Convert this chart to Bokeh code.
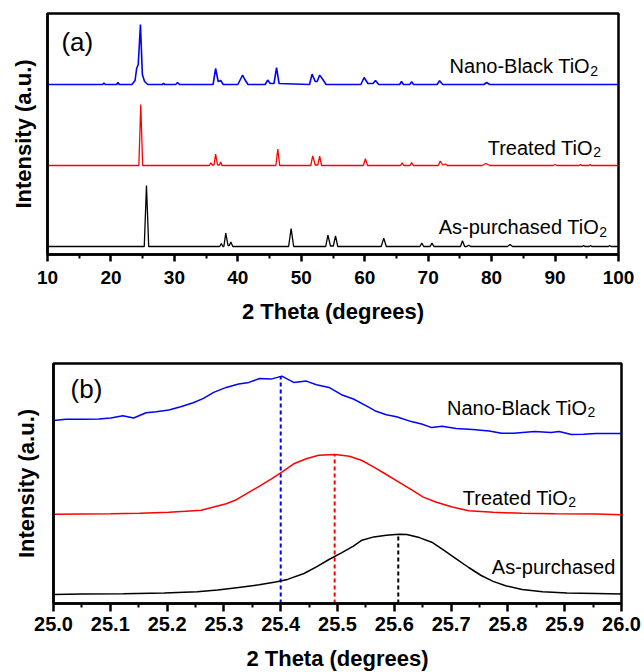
from bokeh.plotting import figure
from bokeh.models import Label, FixedTicker, Range1d, NumeralTickFormatter
from bokeh.embed import file_html
from bokeh.resources import INLINE

# ---------------- Panel (a): full XRD patterns (vertex points) ----------------
A_TICKS = [10, 20, 30, 40, 50, 60, 70, 80, 90, 100]
A_MINOR = [15, 25, 35, 45, 55, 65, 75, 85, 95]

BLACK_A = [(10.0, 8), (25.25, 8), (25.6, 69), (25.95, 8), (37.15, 8), (37.4, 11), (37.65, 8),
           (37.8, 8), (38.1, 21.4), (38.45, 9), (38.65, 9), (38.9, 12.4), (39.2, 8),
           (48.0, 8), (48.4, 25.8), (48.8, 8), (53.85, 8), (54.2, 19.4), (54.6, 8.5),
           (55.05, 8.5), (55.4, 18.7), (55.75, 8), (62.6, 8), (63.0, 16.4), (63.4, 8),
           (68.7, 8), (69.0, 11.4), (69.3, 8), (70.3, 8), (70.6, 11.4), (70.9, 8),
           (75.1, 8), (75.4, 13.7), (75.75, 8), (76.1, 8), (76.4, 9.3), (76.7, 8),
           (82.5, 8), (82.9, 10), (83.3, 8), (94.3, 8), (94.5, 9), (94.7, 8),
           (95.4, 8), (95.6, 9), (95.8, 8), (98.4, 8), (98.6, 9), (98.8, 8), (100.0, 8)]

RED_A = [(10.0, 89), (24.4, 89), (24.7, 150), (25.0, 89), (35.5, 89), (35.75, 91.7), (36.0, 89.5),
         (36.25, 89.5), (36.5, 100.4), (36.8, 89.5), (37.1, 89.5), (37.3, 92.4), (37.5, 89),
         (46.0, 89), (46.3, 105.4), (46.6, 89), (51.5, 89), (51.8, 98.7), (52.2, 89.5),
         (52.6, 89.5), (52.9, 98.4), (53.2, 89), (59.8, 89), (60.1, 95.7), (60.45, 89),
         (65.65, 89), (65.9, 91.7), (66.15, 89), (67.15, 89), (67.4, 92), (67.65, 89),
         (71.6, 89), (71.9, 93.4), (72.3, 89.5), (72.7, 90.5), (73.0, 89), (78.5, 89),
         (79.1, 91), (79.7, 89), (89.7, 89), (90.0, 90), (90.3, 89), (93.8, 89), (94.0, 90),
         (94.2, 89), (95.3, 89), (95.5, 90), (95.7, 89), (100.0, 89)]

BLUE_A = [(10.0, 170), (18.7, 170), (18.9, 171.5), (19.1, 170), (20.9, 170), (21.1, 172), (21.3, 170),
          (23.3, 170), (23.8, 174), (24.05, 186), (24.3, 190), (24.65, 230), (24.95, 180),
          (25.3, 173), (25.8, 170), (28.1, 170), (28.3, 171), (28.5, 170), (30.2, 170),
          (30.5, 172), (30.8, 170), (36.1, 170), (36.5, 186), (36.9, 173), (37.3, 174),
          (37.7, 170), (40.0, 170), (40.4, 175), (40.75, 179.4), (41.1, 175), (41.6, 170),
          (44.3, 170), (44.7, 174.4), (45.1, 171), (45.7, 171), (46.1, 186.8), (46.5, 171),
          (51.3, 170), (51.7, 180.4), (52.2, 173), (52.5, 173), (52.9, 179.4), (53.4, 175),
          (53.9, 170), (59.4, 170), (59.9, 177), (60.5, 171), (61.3, 171), (61.7, 174),
          (62.2, 170), (65.5, 170), (65.8, 173), (66.1, 170), (67.1, 170), (67.4, 172.7),
          (67.7, 170), (71.4, 170), (71.8, 173.7), (72.3, 170), (78.8, 170), (79.2, 172),
          (79.7, 170), (100.0, 170)]

# ---------------- Panel (b): zoom on the (101) peak ----------------
B_TICKS = [25.0, 25.1, 25.2, 25.3, 25.4, 25.5, 25.6, 25.7, 25.8, 25.9, 26.0]
B_MINOR = [25.05, 25.15, 25.25, 25.35, 25.45, 25.55, 25.65, 25.75, 25.85, 25.95]

BLUE_B_X = [25.000, 25.022, 25.051, 25.080, 25.101, 25.122, 25.141, 25.163, 25.181, 25.203,
            25.224, 25.246, 25.264, 25.282, 25.304, 25.326, 25.344, 25.363, 25.383, 25.402,
            25.423, 25.445, 25.463, 25.485, 25.507, 25.528, 25.550, 25.568, 25.586, 25.604,
            25.630, 25.648, 25.666, 25.684, 25.709, 25.738, 25.767, 25.789, 25.810, 25.847,
            25.876, 25.890, 25.912, 25.933, 25.955, 26.000]
BLUE_B_Y = [182.9, 184.2, 184.2, 184.5, 185.5, 187.8, 185.5, 190.8, 191.8, 193.5,
            196.8, 200.8, 205.1, 211.1, 216.1, 219.4, 221.1, 225.0, 224.4, 227.4,
            221.1, 222.4, 218.7, 216.1, 208.8, 204.5, 197.8, 192.2, 188.8, 186.8,
            181.9, 179.5, 175.9, 177.2, 174.9, 173.9, 172.6, 170.2, 170.2, 171.9,
            170.9, 171.9, 168.9, 169.2, 169.9, 169.9]

RED_B_X = [25.000, 25.051, 25.101, 25.152, 25.203, 25.232, 25.260, 25.282, 25.304, 25.322,
           25.340, 25.362, 25.383, 25.402, 25.423, 25.445, 25.467, 25.496, 25.521, 25.543,
           25.564, 25.586, 25.608, 25.630, 25.651, 25.673, 25.702, 25.731, 25.774, 25.825,
           25.883, 25.955, 26.000]
RED_B_Y = [89.2, 89.5, 89.8, 90.2, 91.2, 92.2, 93.2, 96.5, 99.8, 103.8,
           109.8, 117.1, 124.4, 131.4, 139.7, 144.7, 148.3, 149.0, 147.3, 143.0,
           136.4, 129.0, 121.4, 113.8, 106.4, 101.5, 96.5, 92.8, 91.2, 90.2,
           89.8, 89.5, 88.8]

BLACK_B_X = [25.000, 25.051, 25.123, 25.195, 25.253, 25.289, 25.326, 25.362, 25.391, 25.412,
             25.441, 25.463, 25.485, 25.507, 25.528, 25.543, 25.564, 25.586, 25.608, 25.622,
             25.644, 25.666, 25.687, 25.709, 25.731, 25.753, 25.774, 25.796, 25.825, 25.861,
             25.904, 25.955, 26.000]
BLACK_B_Y = [9.1, 9.4, 9.8, 10.4, 11.8, 13.4, 16.1, 18.7, 21.4, 24.1,
             30.0, 36.7, 44.0, 50.6, 57.3, 63.3, 66.6, 68.2, 69.2, 68.9,
             65.9, 61.3, 53.3, 44.7, 36.0, 28.0, 22.1, 17.8, 14.1, 11.8,
             10.4, 10.1, 9.4]

PEAK_X = [25.40, 25.495, 25.607]
PEAK_TOP = [227.4, 149.0, 69.2]
PEAK_COLORS = ["#0000FF", "#FF0000", "#000000"]

FONT = "Liberation Sans"


def style(p, ticks, minor, fmt=None, label_size="19px", label_standoff=5,
          title_standoff=12, ytitle_standoff=10, tick_out=7):
    p.xgrid.visible = False
    p.ygrid.visible = False
    p.background_fill_color = "white"
    p.border_fill_color = "white"
    p.outline_line_color = "black"
    p.outline_line_width = 2.5
    p.outline_line_alpha = 1.0
    xa = p.xaxis[0]
    xa.ticker = FixedTicker(ticks=ticks, minor_ticks=minor)
    if fmt is not None:
        xa.formatter = fmt
    xa.axis_line_width = 2.5
    xa.major_tick_line_width = 2.5
    xa.minor_tick_line_width = 2
    xa.major_tick_out = tick_out
    xa.major_tick_in = 0
    xa.minor_tick_out = 4
    xa.minor_tick_in = 0
    xa.major_label_text_font = FONT
    xa.major_label_text_font_style = "bold"
    xa.major_label_text_font_size = label_size
    xa.major_label_text_color = "black"
    xa.major_label_standoff = label_standoff
    xa.axis_label = "2 Theta (degrees)"
    xa.axis_label_text_font = FONT
    xa.axis_label_text_font_style = "bold"
    xa.axis_label_text_font_size = "22px"
    xa.axis_label_text_color = "black"
    xa.axis_label_standoff = title_standoff
    ya = p.yaxis[0]
    ya.ticker = FixedTicker(ticks=[])
    ya.axis_line_width = 2.5
    ya.major_tick_out = 0
    ya.major_tick_in = 0
    ya.minor_tick_out = 0
    ya.minor_tick_in = 0
    ya.major_label_text_font_size = "0px"
    ya.axis_label = "Intensity (a.u.)"
    ya.axis_label_text_font = FONT
    ya.axis_label_text_font_style = "bold"
    ya.axis_label_text_font_size = "22px"
    ya.axis_label_text_color = "black"
    ya.axis_label_standoff = ytitle_standoff


def tio2_label(p, x, y, main, sub=True):
    p.add_layout(Label(x=x, y=y, text=main, text_align="right", text_baseline="alphabetic",
                       x_offset=-8 if sub else 0, text_font=FONT, text_font_size="20px",
                       text_color="black"))
    if sub:
        p.add_layout(Label(x=x, y=y - 4.5, text="2", text_align="right",
                           text_baseline="alphabetic", text_font=FONT,
                           text_font_size="14px", text_color="black"))


# ---------- figure (a) ----------
pa = figure(frame_width=571, frame_height=241, min_border_left=47, min_border_right=26,
            min_border_top=13, min_border_bottom=81, x_range=Range1d(10, 100),
            y_range=Range1d(0, 241), output_backend="svg", toolbar_location=None)
style(pa, A_TICKS, A_MINOR, label_size="19px", label_standoff=9, title_standoff=12,
      ytitle_standoff=12, tick_out=7)

pa.line([v[0] for v in BLACK_A], [v[1] for v in BLACK_A], line_color="black", line_width=1.3)
pa.line([v[0] for v in RED_A], [v[1] for v in RED_A], line_color="#FF0000", line_width=1.3)
pa.line([v[0] for v in BLUE_A], [v[1] for v in BLUE_A], line_color="#0000FF", line_width=1.6)

pa.add_layout(Label(x=12.2, y=212.5, text="(a)", text_align="left", text_baseline="alphabetic",
                    text_font=FONT, text_font_size="26px", text_color="black"))
tio2_label(pa, 96.77, 188.3, "Nano-Black TiO")
tio2_label(pa, 97.23, 107.0, "Treated TiO")
tio2_label(pa, 98.21, 27.2, "As-purchased TiO")

# ---------- figure (b) ----------
pb = figure(frame_width=568, frame_height=240, min_border_left=53, min_border_right=23,
            min_border_top=28, min_border_bottom=69, x_range=Range1d(25.0, 26.0),
            y_range=Range1d(0, 240), output_backend="svg", toolbar_location=None)
style(pb, B_TICKS, B_MINOR, fmt=NumeralTickFormatter(format="0.0"), label_size="20px",
      label_standoff=5, title_standoff=12, ytitle_standoff=15, tick_out=8)

pb.segment(x0=PEAK_X, y0=[0, 0, 0], x1=PEAK_X, y1=PEAK_TOP, line_color=PEAK_COLORS,
           line_width=2, line_dash="4 3")
pb.line(BLUE_B_X, BLUE_B_Y, line_color="#0000FF", line_width=1.5)
pb.line(RED_B_X, RED_B_Y, line_color="#FF0000", line_width=1.5)
pb.line(BLACK_B_X, BLACK_B_Y, line_color="black", line_width=1.5)

pb.add_layout(Label(x=25.030, y=214.5, text="(b)", text_align="left", text_baseline="alphabetic",
                    text_font=FONT, text_font_size="26px", text_color="black"))
tio2_label(pb, 25.954, 196.0, "Nano-Black TiO")
tio2_label(pb, 25.920, 106.0, "Treated TiO")
tio2_label(pb, 25.989, 37.0, "As-purchased", sub=False)

open("out.html", "w").write(file_html([pa, pb], INLINE))
